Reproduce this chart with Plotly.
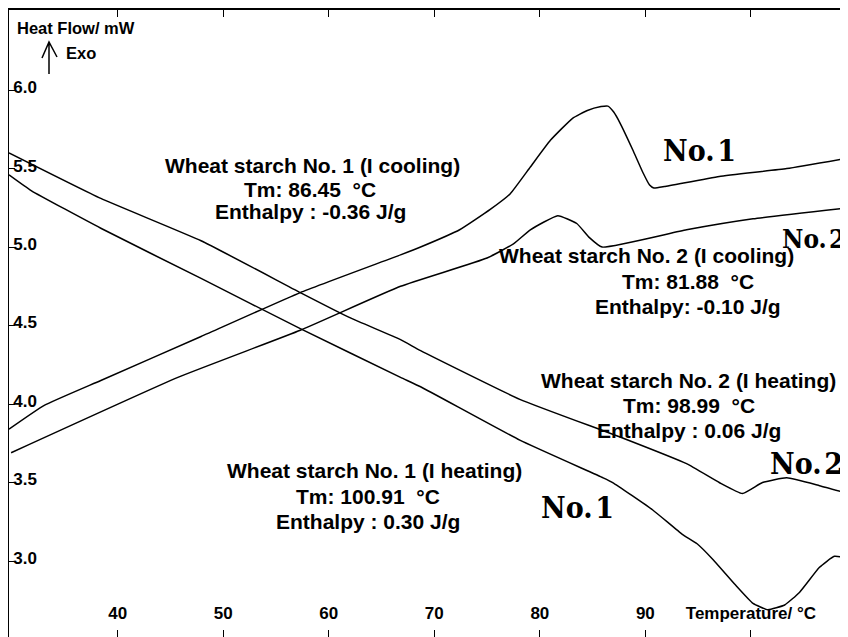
import plotly.graph_objects as go

# ---------------- data ----------------
t_no1_cool = [29.7, 33.0, 38.4, 47.9, 57.3, 66.8, 68.7, 72.4, 75.3, 77.2, 79.1, 81.0, 83.1, 84.5,
              85.8, 86.45, 87.0, 87.6, 88.8, 89.8, 90.4, 90.8, 91.8, 97.0, 103.4, 109.2]
hf_no1_cool = [3.84, 3.99, 4.15, 4.43, 4.71, 4.95, 5.00, 5.11, 5.24, 5.34, 5.51, 5.68, 5.82, 5.87,
               5.895, 5.898, 5.86, 5.79, 5.62, 5.47, 5.395, 5.376, 5.385, 5.45, 5.50, 5.567]

t_no2_cool = [29.9, 45.7, 57.3, 66.8, 75.0, 77.5, 79.1, 81.7, 83.5, 84.7, 85.9, 93.9, 100.2, 109.2]
hf_no2_cool = [3.69, 4.17, 4.47, 4.75, 4.93, 5.02, 5.11, 5.20, 5.15, 5.06, 5.00, 5.11, 5.18, 5.25]

t_no1_heat = [29.7, 31.8, 38.4, 47.9, 57.3, 66.8, 68.7, 78.1, 86.0, 86.9, 90.7, 93.5, 94.9, 96.4,
              98.5, 100.2, 101.6, 103.2, 104.6, 106.5, 107.9, 109.2]
hf_no1_heat = [5.46, 5.36, 5.12, 4.80, 4.48, 4.17, 4.11, 3.77, 3.53, 3.50, 3.325, 3.17, 3.11, 3.01,
               2.85, 2.73, 2.69, 2.72, 2.80, 2.96, 3.03, 3.02]

t_no2_heat = [29.7, 38.4, 47.9, 57.3, 62.0, 66.8, 68.7, 78.1, 87.6, 93.9, 97.0, 99.2, 101.1, 103.4, 106.5, 109.2]
hf_no2_heat = [5.60, 5.31, 5.04, 4.71, 4.55, 4.41, 4.34, 4.03, 3.79, 3.62, 3.50, 3.43, 3.50, 3.53, 3.48, 3.43]

x_tickvals = [40, 50, 60, 70, 80, 90, 100]
x_ticktext = ["40", "50", "60", "70", "80", "90", "Temperature/ °C"]
y_tickvals = [3.0, 3.5, 4.0, 4.5, 5.0, 5.5, 6.0]
y_ticktext = ["3.0", "3.5", "4.0", "4.5", "5.0", "5.5", "6.0"]

NB = "\u00a0"
notes = [
    ("Wheat starch No. 1 (I cooling)", 312, 165),
    ("Tm: 86.45" + NB + NB + "°C", 310, 189),
    ("Enthalpy : -0.36 J/g", 310, 211),
    ("Wheat starch No. 2 (I cooling)", 646, 255),
    ("Tm: 81.88" + NB + NB + "°C", 688, 281),
    ("Enthalpy: -0.10 J/g", 688, 306),
    ("Wheat starch No. 2 (I heating)", 688, 380),
    ("Tm: 98.99" + NB + NB + "°C", 689, 405),
    ("Enthalpy : 0.06 J/g", 689, 430),
    ("Wheat starch No. 1 (I heating)", 374, 470),
    ("Tm: 100.91" + NB + NB + "°C", 368, 496),
    ("Enthalpy : 0.30 J/g", 368, 521),
]
# (text, x pixel, anchor, y pixel, size)
big_labels = [("No.\u200a1", 699, "center", 150, 30), ("No.\u200a2", 847, "right", 239, 26),
              ("No.\u200a2", 845, "right", 463, 30), ("No.\u200a1", 577, "center", 507, 30)]

# ---------------- figure ----------------
# The page body has an 8px default margin, so the figure is 8px smaller than the
# window and every "window pixel" below is converted with that offset.
OFF = 8
W, H = 848 - OFF, 637 - OFF
ML, MR, MT, MB = 1, 0, 2, 0
PW, PH = W - ML - MR, H - MT - MB

def px2x(px):
    return (px - OFF - ML) / PW

def px2y(py):
    return 1 - (py - OFF - MT) / PH

fig = go.Figure()
for tx, hy in [(t_no1_cool, hf_no1_cool), (t_no2_cool, hf_no2_cool),
               (t_no1_heat, hf_no1_heat), (t_no2_heat, hf_no2_heat)]:
    fig.add_trace(go.Scatter(x=tx, y=hy, mode="lines",
                             line=dict(color="black", width=1.5, shape="spline", smoothing=0.4),
                             showlegend=False, hoverinfo="skip"))

SANS = "Liberation Sans, Arial, Helvetica, sans-serif"
for txt, cx, cy in notes:
    fig.add_annotation(text=txt, x=px2x(cx), y=px2y(cy), xref="paper", yref="paper",
                       xanchor="center", yanchor="middle", showarrow=False,
                       font=dict(family=SANS, size=21, color="black", weight="bold"))
BIGFONT = "DejaVu Serif Condensed, Liberation Serif, serif"
for txt, px, anchor, cy, sz in big_labels:
    fig.add_annotation(text=txt, x=px2x(px), y=px2y(cy), xref="paper", yref="paper",
                       xanchor=anchor, yanchor="middle", showarrow=False,
                       font=dict(family=BIGFONT, size=sz, color="black", weight="bold"))

fig.add_annotation(text="Heat Flow/ mW", x=px2x(15), y=px2y(28), xref="paper", yref="paper",
                   xanchor="left", yanchor="middle", showarrow=False,
                   font=dict(family=SANS, size=16.5, color="black", weight="bold"))
fig.add_annotation(text="Exo", x=px2x(64), y=px2y(53), xref="paper", yref="paper",
                   xanchor="left", yanchor="middle", showarrow=False,
                   font=dict(family=SANS, size=16.5, color="black", weight="bold"))
# arrow (up, open head)
fig.add_shape(type="path", xref="paper", yref="paper",
              path=(f"M {px2x(49)} {px2y(74)} L {px2x(49)} {px2y(42)} "
                    f"M {px2x(42)} {px2y(58)} L {px2x(49)} {px2y(42)} L {px2x(57)} {px2y(57)}"),
              line=dict(color="black", width=1.5))

axis_font = dict(family=SANS, size=17, color="black", weight="bold")
fig.update_xaxes(range=[29.7, 109.2], showgrid=False, zeroline=False, showline=True,
                 linecolor="black", linewidth=1.5, mirror="ticks", ticks="inside", ticklen=7,
                 tickwidth=1.2, tickcolor="black", tickvals=x_tickvals, ticktext=x_ticktext,
                 ticklabelposition="inside", tickfont=axis_font, automargin=False,
                 ticklabelstandoff=8)
fig.update_yaxes(range=[2.516, 6.51], showgrid=False, zeroline=False, showline=True,
                 linecolor="black", linewidth=1.5, mirror="ticks", ticks="inside", ticklen=6,
                 tickwidth=1.2, tickcolor="black", tickvals=y_tickvals, ticktext=y_ticktext,
                 ticklabelposition="inside", tickfont=axis_font, ticklabelshift=-3, automargin=False,
                 ticklabelstandoff=-1)
fig.update_layout(width=W, height=H, margin=dict(l=ML, r=MR, t=MT, b=MB, pad=0),
                  plot_bgcolor="white", paper_bgcolor="white")
fig.write_html("out.html")
